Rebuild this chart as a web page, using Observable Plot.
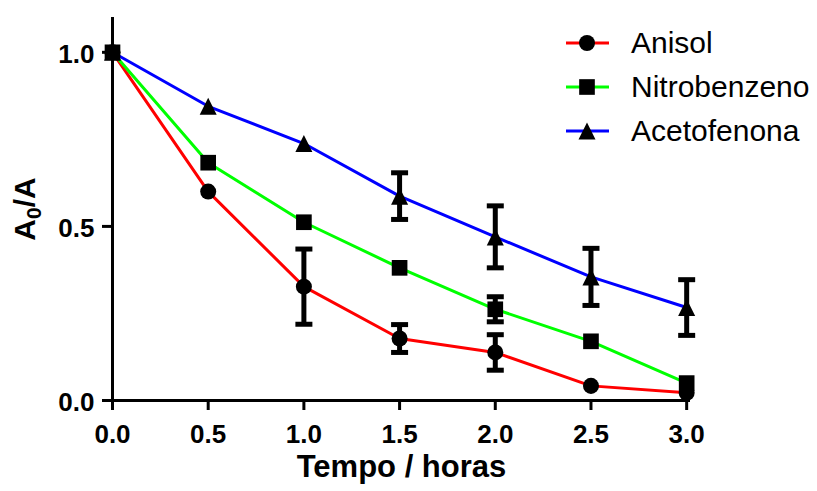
<!DOCTYPE html>
<html>
<head>
<meta charset="utf-8">
<script src="https://cdn.jsdelivr.net/npm/d3@7"></script>
<script src="https://cdn.jsdelivr.net/npm/@observablehq/plot@0.6"></script>
<style>
  body { margin: 0; background: #fff; }
  #wrap { position: relative; width: 817px; height: 491px; }
  #legend { position: absolute; left: 566px; top: 21px; font-family: "Liberation Sans", Arial, sans-serif; font-size: 30px; color: #000; }
  .row { display: flex; align-items: center; height: 44px; }
  .row svg { display: block; margin-right: 22px; }
</style>
</head>
<body>
<div id="wrap"><div id="legend"></div></div>
<script>
// ---- data ----
const times = [0, 0.5, 1.0, 1.5, 2.0, 2.5, 3.0];
const seriesNames = ["Anisol", "Nitrobenzeno", "Acetofenona"];
const seriesColors = ["#ff0000", "#00ff00", "#0000ff"];
const anisol = [1.0, 0.600, 0.327, 0.178, 0.138, 0.042, 0.022];
const anisolErr = [0, 0, 0.108, 0.040, 0.051, 0, 0];
const nitrobenzeno = [1.0, 0.683, 0.512, 0.381, 0.262, 0.170, 0.050];
const nitrobenzenoErr = [0, 0, 0, 0, 0.036, 0, 0];
const acetofenona = [1.0, 0.845, 0.738, 0.587, 0.470, 0.355, 0.267];
const acetofenonaErr = [0, 0, 0, 0.067, 0.089, 0.082, 0.080];
const xTicks = [0, 0.5, 1.0, 1.5, 2.0, 2.5, 3.0];
const yTicks = [0, 0.5, 1.0];
const xLabel = "Tempo / horas";
const yLabel = "A0/A";

// ---- symbols ----
const symCircle = { draw(ctx, size) { const r = Math.sqrt(size / Math.PI) * 0.92; ctx.moveTo(r, 0); ctx.arc(0, 0, r, 0, 2 * Math.PI); ctx.closePath(); } };
const symSquare = { draw(ctx, size) { const h = Math.sqrt(size / Math.PI) * 0.9; ctx.rect(-h, -h, 2 * h, 2 * h); } };
const symTriangle = { draw(ctx, size) { const h = Math.sqrt(size / Math.PI) * 0.98; ctx.moveTo(0, -h); ctx.lineTo(h, h); ctx.lineTo(-h, h); ctx.closePath(); } };
const symCap = { draw(ctx, size) { const h = Math.sqrt(size / Math.PI); ctx.moveTo(-h, 0); ctx.lineTo(h, 0); } };
const seriesSymbols = [symCircle, symSquare, symTriangle];

// ---- tidy table ----
const valueArrays = [anisol, nitrobenzeno, acetofenona];
const errArrays = [anisolErr, nitrobenzenoErr, acetofenonaErr];
const rows = [];
seriesNames.forEach((name, i) => {
  times.forEach((t, j) => rows.push({ name, t, v: valueArrays[i][j], e: errArrays[i][j] }));
});
const errRows = rows.filter(d => d.e > 0);
// draw squares last so the shared first point shows a square
const markerOrder = ["Acetofenona", "Anisol", "Nitrobenzeno"];
const markerRows = markerOrder.flatMap(n => rows.filter(d => d.name === n));

const font = '"Liberation Sans", Arial, sans-serif';

const chart = Plot.plot({
  width: 817,
  height: 491,
  marginLeft: 112,
  marginRight: 127,
  marginTop: 17,
  marginBottom: 91,
  style: { fontFamily: font, fontSize: "26px", background: "white", color: "black", overflow: "visible" },
  x: { domain: [0, 3.02] },
  y: { domain: [0, 1.1] },
  color: { domain: seriesNames, range: seriesColors },
  symbol: { domain: seriesNames, range: seriesSymbols },
  marks: [
    Plot.axisX({ ticks: xTicks, tickFormat: d3.format(".1f"), tickSize: 10, tickPadding: 14, strokeWidth: 3, fontSize: 26, fontWeight: "bold", label: null }),
    // y ticks (marks only)
    Plot.axisY({ ticks: yTicks, tickFormat: () => "", tickSize: 10, strokeWidth: 3, label: null }),
    // y tick labels (text only, nudged to match the reference)
    Plot.axisY({ ticks: yTicks, tickFormat: d3.format(".1f"), tickSize: 0, tickPadding: 18, dy: 2, fontSize: 26, fontWeight: "bold", label: null }),
    Plot.ruleX([0], { strokeWidth: 3, stroke: "black" }),
    Plot.ruleY([0], { strokeWidth: 3, stroke: "black" }),
    Plot.line(rows, { x: "t", y: "v", z: "name", stroke: "name", strokeWidth: 3 }),
    Plot.ruleX(errRows, { x: "t", y1: d => d.v - d.e, y2: d => d.v + d.e, stroke: "black", strokeWidth: 5 }),
    Plot.dot(errRows, { x: "t", y: d => d.v + d.e, symbol: () => symCap, r: 8.5, fill: "none", stroke: "black", strokeWidth: 5 }),
    Plot.dot(errRows, { x: "t", y: d => d.v - d.e, symbol: () => symCap, r: 8.5, fill: "none", stroke: "black", strokeWidth: 5 }),
    Plot.dot(markerRows, { x: "t", y: "v", symbol: "name", r: 8.7, fill: "black", stroke: "none" }),
    Plot.text([xLabel], { frameAnchor: "bottom", textAnchor: "middle", dy: 76, lineAnchor: "bottom", fontSize: 31, fontWeight: "bold", fill: "black" }),
    Plot.text([yLabel], { frameAnchor: "left", textAnchor: "middle", rotate: -90, dx: -99, lineAnchor: "top", fontSize: 30, fontWeight: "bold", fill: "black" })
  ]
});
document.getElementById("wrap").prepend(chart);

// subscript the 0 of A0/A
d3.select(chart).selectAll("text").each(function () {
  if (this.textContent === yLabel) {
    const el = d3.select(this);
    el.text(null);
    el.append("tspan").text("A");
    el.append("tspan").attr("font-size", "0.7em").attr("dy", "0.28em").text("0");
    el.append("tspan").attr("dy", "-0.2em").text("/A");
  }
});

// legend
const legend = d3.select("#legend");
seriesNames.forEach((name, i) => {
  const row = legend.append("div").attr("class", "row");
  const s = row.append("svg").attr("width", 43).attr("height", 20);
  s.append("line").attr("x1", 0).attr("x2", 43).attr("y1", 10).attr("y2", 10).attr("stroke", seriesColors[i]).attr("stroke-width", 3);
  s.append("path").attr("transform", "translate(21,10)").attr("d", d3.symbol(seriesSymbols[i], Math.PI * 8.7 * 8.7)()).attr("fill", "black");
  row.append("span").text(name);
});
</script>
</body>
</html>
